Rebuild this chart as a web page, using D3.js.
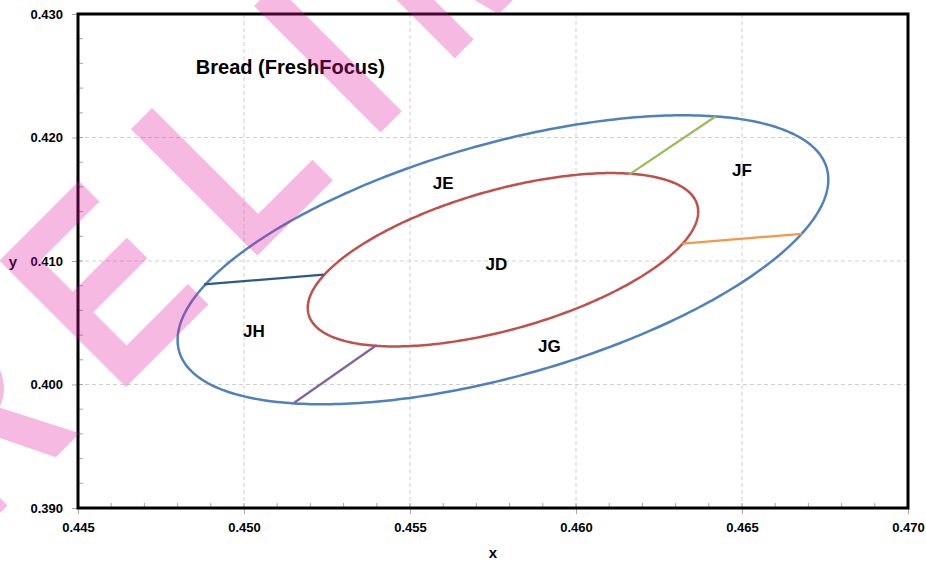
<!DOCTYPE html>
<html>
<head>
<meta charset="utf-8">
<script src="https://cdn.jsdelivr.net/npm/d3@7"></script>
<style>
  html, body { margin: 0; padding: 0; background: #fff; }
  svg { display: block; }
  text { font-family: "Liberation Sans", Arial, sans-serif; }
</style>
</head>
<body>
<svg id="chart" width="926" height="562"></svg>
<script>
// ---------------- data ----------------
const chartTitle = "Bread (FreshFocus)";
const xTickValues = [0.445, 0.450, 0.455, 0.460, 0.465, 0.470];
const yTickValues = [0.390, 0.400, 0.410, 0.420, 0.430];
const xMinorStep = 0.001;
const yMinorStep = 0.002;

// ellipses: centre, half-extents, correlation
const ellipseNames = ["outer", "inner"];
const ellipseCX = [0.4578, 0.4578];
const ellipseCY = [0.4101, 0.4101];
const ellipseAX = [0.00980, 0.00588];
const ellipseAY = [0.01170, 0.00702];
const ellipseRho = [0.555, 0.555];

// connector segments
const segNames = ["JE-JF", "JD-JF", "JD-JH", "JG-JH"];
const segX1 = [0.4616, 0.4632, 0.4488, 0.4515];
const segY1 = [0.4170, 0.4114, 0.4081, 0.3985];
const segX2 = [0.4642, 0.4668, 0.4524, 0.4540];
const segY2 = [0.4217, 0.4122, 0.4089, 0.4032];

// region labels
const labelNames = ["JE", "JD", "JF", "JG", "JH"];
const labelX = [0.4560, 0.4576, 0.4650, 0.4592, 0.4503];
const labelY = [0.4163, 0.4097, 0.4173, 0.4031, 0.4043];

const titleX = 0.44855;
const titleY = 0.42514;

const watermarkText = "PRELIMINARY";

// ---------------- layout ----------------
const W = 926, H = 562;
const margin = { left: 78, top: 14, right: 18, bottom: 54 };
const pw = W - margin.left - margin.right;   // 830
const ph = H - margin.top - margin.bottom;   // 494

const ellipseColors = ["#4F81BD", "#C0504D"];
const segColors = ["#9BBB59", "#F79646", "#2C5A85", "#8064A2"];

const svg = d3.select("#chart");
const x = d3.scaleLinear().domain([0.445, 0.470]).range([0, pw]);
const y = d3.scaleLinear().domain([0.390, 0.430]).range([ph, 0]);

const g = svg.append("g").attr("transform", `translate(${margin.left},${margin.top})`);

// gridlines
g.append("g").selectAll("line").data(xTickValues.slice(1, -1)).join("line")
  .attr("x1", d => x(d)).attr("x2", d => x(d)).attr("y1", 0).attr("y2", ph)
  .attr("stroke", "#D0D0D0").attr("stroke-width", 1).attr("stroke-dasharray", "4,3");
g.append("g").selectAll("line").data(yTickValues.slice(1, -1)).join("line")
  .attr("y1", d => y(d)).attr("y2", d => y(d)).attr("x1", 0).attr("x2", pw)
  .attr("stroke", "#D0D0D0").attr("stroke-width", 1).attr("stroke-dasharray", "4,3");

// minor ticks (inside)
const xMinor = d3.range(0.445, 0.4700001, xMinorStep);
const yMinor = d3.range(0.390, 0.4300001, yMinorStep);
g.append("g").selectAll("line").data(xMinor).join("line")
  .attr("x1", d => x(d)).attr("x2", d => x(d)).attr("y1", ph).attr("y2", ph - 5)
  .attr("stroke", "#A6A6A6").attr("stroke-width", 1);
g.append("g").selectAll("line").data(yMinor).join("line")
  .attr("y1", d => y(d)).attr("y2", d => y(d)).attr("x1", 0).attr("x2", 5)
  .attr("stroke", "#A6A6A6").attr("stroke-width", 1);

// axes
const xAxis = d3.axisBottom(x).tickValues(xTickValues).tickFormat(d3.format(".3f")).tickSize(6).tickPadding(9);
const yAxis = d3.axisLeft(y).tickValues(yTickValues).tickFormat(d3.format(".3f")).tickSize(6).tickPadding(9);
const gx = g.append("g").attr("transform", `translate(0,${ph})`).call(xAxis);
const gy = g.append("g").call(yAxis);
[gx, gy].forEach(a => {
  a.select(".domain").remove();
  a.selectAll(".tick line").attr("stroke", "#A6A6A6");
  a.selectAll(".tick text").attr("fill", "#000").style("font-size", "13px").style("font-weight", "bold")
    .style("font-family", "'Liberation Sans', Arial, sans-serif");
});

// ellipses
const line = d3.line().x(d => x(d[0])).y(d => y(d[1])).curve(d3.curveLinearClosed);
const tSteps = d3.range(0, 360, 1).map(a => a * Math.PI / 180);
ellipseNames.forEach((n, i) => {
  const pts = tSteps.map(t => [
    ellipseCX[i] + ellipseAX[i] * Math.cos(t),
    ellipseCY[i] + ellipseAY[i] * (ellipseRho[i] * Math.cos(t) + Math.sqrt(1 - ellipseRho[i] ** 2) * Math.sin(t))
  ]);
  g.append("path").datum(pts).attr("d", line)
    .attr("fill", "none").attr("stroke", ellipseColors[i]).attr("stroke-width", 2.5);
});

// segments
g.append("g").selectAll("line").data(segNames).join("line")
  .attr("x1", (d, i) => x(segX1[i])).attr("y1", (d, i) => y(segY1[i]))
  .attr("x2", (d, i) => x(segX2[i])).attr("y2", (d, i) => y(segY2[i]))
  .attr("stroke", (d, i) => segColors[i]).attr("stroke-width", 2.2);

// labels
g.append("g").selectAll("text").data(labelNames).join("text")
  .attr("x", (d, i) => x(labelX[i])).attr("y", (d, i) => y(labelY[i]))
  .attr("text-anchor", "middle").attr("dominant-baseline", "central")
  .style("font-size", "17px").style("font-weight", "bold").attr("fill", "#000")
  .text(d => d);

// title
g.append("text").attr("x", x(titleX)).attr("y", y(titleY)).attr("text-anchor", "start")
  .style("font-size", "20px").style("font-weight", "bold").text(chartTitle);

// frame
g.append("rect").attr("x", 0).attr("y", 0).attr("width", pw).attr("height", ph)
  .attr("fill", "none").attr("stroke", "#000").attr("stroke-width", 3);

// axis titles
svg.append("text").attr("x", margin.left + pw / 2).attr("y", 558).attr("text-anchor", "middle")
  .style("font-size", "15px").style("font-weight", "bold").text("x");
svg.append("text").attr("x", 13).attr("y", margin.top + y(0.410)).attr("text-anchor", "middle")
  .attr("dominant-baseline", "central").style("font-size", "15px").style("font-weight", "bold").text("y");

// watermark
svg.append("text").attr("transform", "translate(-155,668) rotate(-45) scale(0.8,1)")
  .style("font-size", "260px").style("font-weight", "bold").style("letter-spacing", "59px")
  .attr("fill", "#E0189A").attr("fill-opacity", 0.3).text(watermarkText);
</script>
</body>
</html>
